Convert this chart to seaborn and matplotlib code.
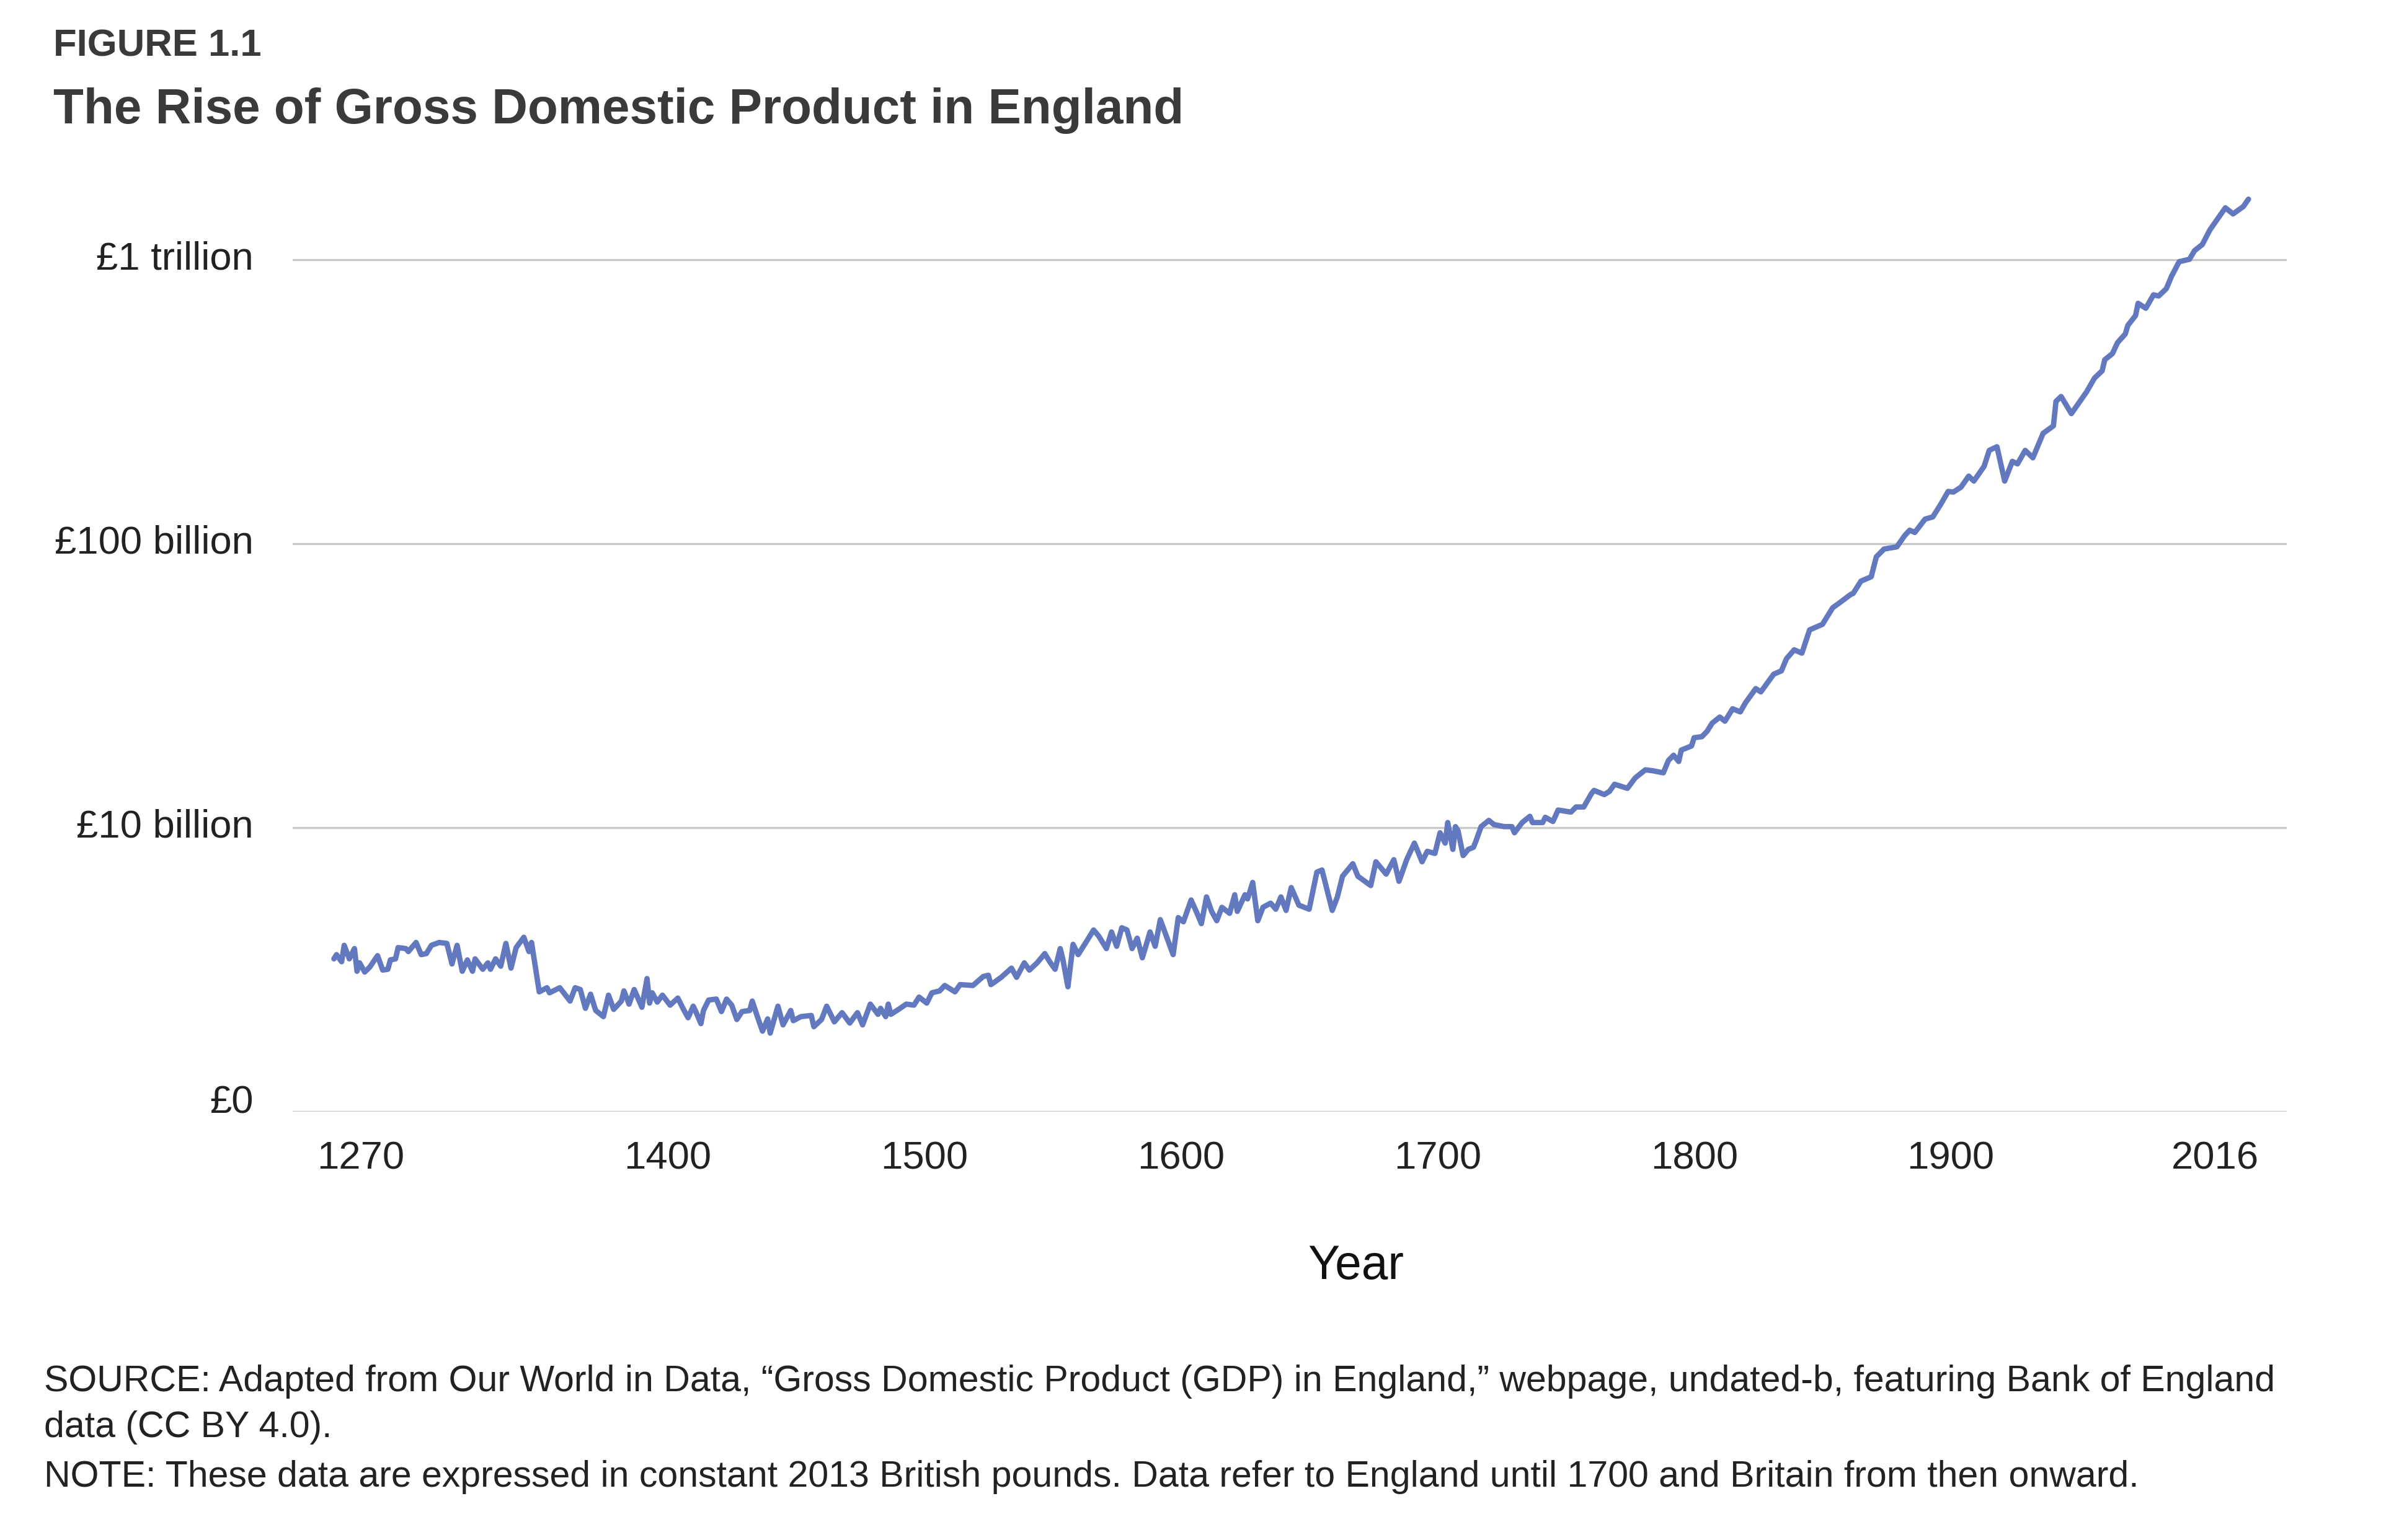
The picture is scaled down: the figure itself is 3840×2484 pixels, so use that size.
import matplotlib
matplotlib.use("Agg")
import matplotlib.pyplot as plt
import matplotlib.transforms as mtransforms
import pandas as pd
import seaborn as sns

# GDP of England (Britain from 1700), constant 2013 pounds, in £ billion
years = [1270, 1271, 1273, 1274, 1276, 1278, 1279, 1280, 1282, 1284, 1287, 1289, 1291, 1292, 1294, 1295, 1298, 1299,
         1302, 1304, 1306, 1308, 1311, 1314, 1316, 1318, 1320, 1322, 1324, 1325, 1328, 1330, 1331, 1333, 1335, 1337, 1339, 1341, 1344, 1346, 1347, 1349,
         1350, 1353, 1354, 1358, 1362, 1364, 1366, 1368, 1370, 1372, 1375, 1377, 1379, 1382, 1383, 1385, 1387, 1390, 1392, 1393, 1394, 1396, 1398,
         1401, 1404, 1406, 1408, 1410, 1411, 1413, 1414, 1416, 1419, 1421, 1423, 1425, 1427, 1429, 1432, 1433, 1435, 1437, 1439, 1440, 1443, 1445, 1448, 1449,
         1452, 1456, 1457, 1460, 1462, 1465, 1468, 1471, 1474, 1476, 1479, 1482, 1483, 1485, 1486, 1487, 1490, 1493, 1496, 1498,
         1501, 1503, 1506, 1508, 1512, 1514, 1519, 1523, 1525, 1526, 1527, 1530, 1534, 1536, 1539, 1541, 1544, 1547, 1549,
         1551, 1553, 1554, 1556, 1558, 1560, 1563, 1566, 1568, 1571, 1573, 1575, 1577, 1579, 1581, 1583, 1585, 1588, 1590, 1592, 1597, 1599,
         1601, 1604, 1606, 1608, 1610, 1612, 1614, 1616, 1619, 1621, 1622, 1625, 1626, 1628, 1630, 1632, 1635, 1637, 1639, 1641, 1643, 1646, 1650,
         1653, 1655, 1659, 1661, 1663, 1667, 1669, 1674, 1676, 1680, 1683, 1685, 1688, 1691, 1694, 1696, 1699,
         1701, 1703, 1704, 1706, 1707, 1708, 1710, 1712, 1714, 1715, 1717, 1720, 1722, 1726, 1729, 1730, 1733, 1736, 1737, 1741, 1742, 1745, 1747,
         1752, 1754, 1757, 1760, 1761, 1765, 1767, 1769, 1774, 1777, 1781, 1784, 1788, 1790, 1792, 1794, 1795, 1799,
         1800, 1803, 1805, 1807, 1810, 1812, 1815, 1818, 1820, 1824, 1826, 1831, 1834, 1836, 1839, 1842, 1845, 1850, 1854, 1857, 1861, 1862, 1865, 1869,
         1871, 1874, 1879, 1882, 1884, 1886, 1890, 1893, 1896, 1899,
         1901, 1904, 1907, 1909, 1913, 1915, 1918, 1921, 1924, 1926, 1929, 1932, 1936, 1940, 1941, 1943, 1945, 1947,
         1951, 1953, 1956, 1959, 1960, 1963, 1965, 1968, 1969, 1972, 1973, 1976, 1979, 1981, 1984, 1986, 1989,
         1993, 1995, 1998, 2001, 2004, 2007, 2010, 2014, 2016]

gdp_bn = [3.45, 3.57, 3.37, 3.85, 3.45, 3.75, 3.12, 3.34, 3.10, 3.23, 3.54, 3.15, 3.17, 3.42, 3.45, 3.78, 3.75, 3.66,
          3.94, 3.57, 3.60, 3.85, 3.94, 3.91, 3.31, 3.85, 3.12, 3.42, 3.12, 3.45, 3.17, 3.34, 3.17, 3.45, 3.25, 3.91, 3.20, 3.78, 4.11, 3.66, 3.94, 3.02,
          2.64, 2.73, 2.62, 2.73, 2.45, 2.73, 2.69, 2.31, 2.59, 2.27, 2.16, 2.57, 2.29, 2.45, 2.66, 2.39, 2.69, 2.33, 2.94, 2.41, 2.62, 2.43, 2.57,
          2.37, 2.51, 2.31, 2.14, 2.35, 2.25, 2.04, 2.27, 2.47, 2.49, 2.25, 2.49, 2.37, 2.11, 2.25, 2.27, 2.45, 2.16, 1.92, 2.12, 1.89, 2.35, 2.02, 2.27, 2.09,
          2.16, 2.18, 1.99, 2.11, 2.35, 2.07, 2.23, 2.05, 2.23, 2.02, 2.39, 2.20, 2.31, 2.16, 2.39, 2.20, 2.29, 2.39, 2.37, 2.53,
          2.41, 2.62, 2.66, 2.78, 2.64, 2.80, 2.78, 2.99, 3.02, 2.80, 2.84, 2.97, 3.20, 2.97, 3.34, 3.15, 3.34, 3.60, 3.36,
          3.17, 3.75, 3.45, 2.75, 3.88, 3.57, 3.94, 4.36, 4.15, 3.75, 4.29, 3.82, 4.44, 4.36, 3.75, 4.08, 3.48, 4.29, 3.82, 4.74, 3.57, 4.82,
          4.66, 5.56, 5.07, 4.59, 5.70, 5.07, 4.70, 5.24, 4.99, 5.80, 5.07, 5.80, 5.61, 6.41, 4.70, 5.24, 5.42, 5.16, 5.70, 5.11, 6.15, 5.33, 5.16,
          6.97, 7.09, 5.11, 5.70, 6.74, 7.46, 6.74, 6.25, 7.58, 6.86, 7.71, 6.47, 7.71, 8.82, 7.58, 8.25, 8.11,
          9.59, 8.82, 10.42, 8.38, 10.08, 9.75, 7.97, 8.38, 8.52, 8.97, 10.08, 10.60, 10.25, 10.08, 10.08, 9.59, 10.42, 10.96, 10.42, 10.42, 10.87, 10.51, 11.53,
          11.34, 11.82, 11.82, 13.18, 13.52, 13.07, 13.41, 14.21, 13.75, 14.95, 15.98, 15.85, 15.59, 17.24, 17.98, 17.09, 18.75, 19.39,
          20.73, 20.90, 21.80, 23.31, 24.51, 23.70, 26.21, 25.56, 27.5, 30.87, 30.05, 34.69, 35.64, 39.34, 42.27, 41.15, 49.69, 51.97, 59.47, 62.20, 66.22, 66.82, 73.76, 76.45,
          89.86, 95.70, 97.44, 106.6, 111.5, 109.5, 122.0, 124.2, 137.1, 152.7,
          151.9, 158.1, 172.9, 166.1, 187.2, 213.0, 219.4, 166.1, 194.8, 190.9, 213.0, 200.6, 244.7, 259.8, 316.9, 329.7, 307.6, 287.0,
          323.3, 343.1, 382.7, 406.2, 444.1, 466.8, 510.5, 547.1, 586.6, 635.3, 701.8, 674.5, 752.0, 744.7, 790.5, 873.3, 983.6,
          1003, 1076, 1130, 1274, 1393, 1523, 1449, 1538, 1633]

x_ticks = [1270, 1400, 1500, 1600, 1700, 1800, 1900, 2016]
y_ticks = [1, 10, 100, 1000]
y_labels = ["£0", "£10 billion", "£100 billion", "£1 trillion"]

df = pd.DataFrame({"Year": years, "GDP": gdp_bn})

sns.set_theme(style="white")
plt.rcParams["font.family"] = ["Liberation Sans", "DejaVu Sans"]

fig = plt.figure(figsize=(16, 10.35), dpi=240)
ax = fig.add_axes([0.123, 0.2782, 0.8375, 0.6087])

sns.lineplot(data=df, x="Year", y="GDP", ax=ax, color="#6379bf", linewidth=2.6)

ax.set_yscale("log")
ax.set_ylim(1, 2000)
ax.set_xlim(1254, 2031)
ax.set_yticks(y_ticks)
ax.set_yticklabels(y_labels)
ax.minorticks_off()
ax.set_xticks(x_ticks)
ax.set_xticklabels([str(t) for t in x_ticks])

ax.yaxis.grid(True, color="#c9c9c9", linewidth=1.0)
ax.xaxis.grid(False)
for s in ax.spines.values():
    s.set_visible(False)
ax.tick_params(axis="y", length=0, pad=19, labelsize=19, labelcolor="#222222")
ax.tick_params(axis="x", length=0, pad=14, labelsize=19, labelcolor="#222222")

# the outer year labels sit a little inside the ends of the series
xl = ax.get_xticklabels()
for lab, dx in ((xl[0], 13), (xl[-1], -16)):
    lab.set_transform(lab.get_transform() + mtransforms.ScaledTranslation(dx / 72, 0, fig.dpi_scale_trans))

# y labels sit slightly above their gridlines
yl = ax.get_yticklabels()
for i, lab in enumerate(yl):
    dy = 6 if i == 0 else 2.2
    lab.set_transform(lab.get_transform() + mtransforms.ScaledTranslation(0, dy / 72, fig.dpi_scale_trans))

ax.set_ylabel("")
ax.set_xlabel("Year", fontsize=23, color="#111111")
ax.xaxis.set_label_coords(0.533, -0.165)
ax.xaxis.label.set_va("center")

fig.text(0.0224, 0.970, "FIGURE 1.1", fontsize=18.5, fontweight="bold", color="#3a3a3a", va="center")
fig.text(0.0224, 0.928, "The Rise of Gross Domestic Product in England", fontsize=24, fontweight="bold",
         color="#3a3a3a", va="center")

note_kw = dict(fontsize=17.7, color="#222222", va="center")
fig.text(0.0185, 0.1028,
         "SOURCE: Adapted from Our World in Data, \u201cGross Domestic Product (GDP) in England,\u201d webpage, undated-b, featuring Bank of England",
         **note_kw)
fig.text(0.0185, 0.0732, "data (CC BY 4.0).", **note_kw)
fig.text(0.0185, 0.0407,
         "NOTE: These data are expressed in constant 2013 British pounds. Data refer to England until 1700 and Britain from then onward.",
         **note_kw)

fig.savefig("out.png", dpi=240)
